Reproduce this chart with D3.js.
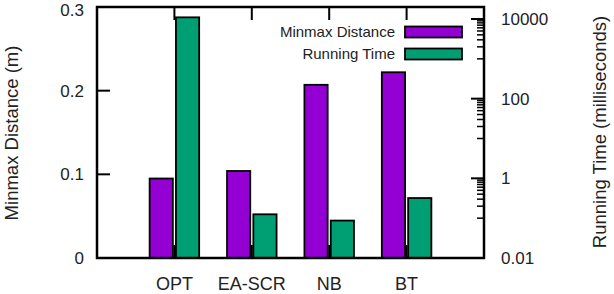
<!DOCTYPE html>
<html>
<head>
<meta charset="utf-8">
<script src="https://cdn.jsdelivr.net/npm/d3@7"></script>
<style>
html,body{margin:0;padding:0;background:#fff;}
svg{display:block;font-family:"Liberation Sans",Arial,sans-serif;}
</style>
</head>
<body>
<svg id="chart" width="614" height="294"></svg>
<script>
const categories = ["OPT", "EA-SCR", "NB", "BT"];
const minmaxDistance = [0.095, 0.104, 0.207, 0.222];
const runningTime = [11000, 0.125, 0.087, 0.32];
const leftTicks = [0, 0.1, 0.2, 0.3];
const leftTickLabels = ["0", "0.1", "0.2", "0.3"];
const rightTicks = [0.01, 1, 100, 10000];
const rightTickLabels = ["0.01", "1", "100", "10000"];
const seriesNames = ["Minmax Distance", "Running Time"];
const colors = ["#9400D3", "#009E73"];

const svg = d3.select("#chart");
const L = 97, R = 484, T = 7, B = 258;

const x = d3.scaleLinear().domain([0, 5]).range([L, R]);
const yL = d3.scaleLinear().domain([0, 0.3]).range([B, T]);
const yR = d3.scaleLog().domain([0.01, 20000]).range([B, T]);

const g = svg.append("g");

// x ticks (bottom and top, inward)
categories.forEach((c, i) => {
  const cx = x(i + 1);
  g.append("line").attr("x1", cx).attr("x2", cx).attr("y1", B).attr("y2", B - 13)
    .attr("stroke", "#000").attr("stroke-width", 2);
  g.append("line").attr("x1", cx).attr("x2", cx).attr("y1", T).attr("y2", T + 13)
    .attr("stroke", "#000").attr("stroke-width", 2);
});

// left ticks
leftTicks.forEach((v, i) => {
  g.append("line").attr("x1", L).attr("x2", L + 13).attr("y1", yL(v)).attr("y2", yL(v))
    .attr("stroke", "#000").attr("stroke-width", 2);
  const base = Math.max(yL(v) + 6.1, 15.5);
  g.append("text").attr("x", L - 13).attr("y", base)
    .attr("text-anchor", "end").attr("font-size", 17).attr("fill", "#222").text(leftTickLabels[i]);
});

// right ticks (log)
rightTicks.forEach((v, i) => {
  g.append("line").attr("x1", R).attr("x2", R - 13).attr("y1", yR(v)).attr("y2", yR(v))
    .attr("stroke", "#000").attr("stroke-width", 2);
  g.append("text").attr("x", R + 17).attr("y", yR(v)).attr("dy", "0.36em")
    .attr("text-anchor", "start").attr("font-size", 17).attr("fill", "#222").text(rightTickLabels[i]);
});
[-1, 1, 3].forEach(m => {
  for (let k = 1; k <= 9; k++) {
    const v = k * Math.pow(10, m);
    g.append("line").attr("x1", R).attr("x2", R - 7).attr("y1", yR(v)).attr("y2", yR(v))
      .attr("stroke", "#000").attr("stroke-width", 1.5);
  }
});

// bars
const bw = 0.3, gap = 0.02;
categories.forEach((c, i) => {
  const cx = i + 1;
  g.append("rect")
    .attr("x", x(cx - gap - bw)).attr("width", x(bw) - x(0))
    .attr("y", yL(minmaxDistance[i])).attr("height", yL(0) - yL(minmaxDistance[i]))
    .attr("fill", colors[0]).attr("stroke", "#000").attr("stroke-width", 1.8);
  g.append("rect")
    .attr("x", x(cx + gap)).attr("width", x(bw) - x(0))
    .attr("y", yR(runningTime[i])).attr("height", yR(0.01) - yR(runningTime[i]))
    .attr("fill", colors[1]).attr("stroke", "#000").attr("stroke-width", 1.8);
  g.append("text").attr("x", x(cx)).attr("y", 290)
    .attr("text-anchor", "middle").attr("font-size", 18).attr("fill", "#222").text(c);
});

// frame
g.append("rect").attr("x", L).attr("y", T).attr("width", R - L).attr("height", B - T)
  .attr("fill", "none").attr("stroke", "#000").attr("stroke-width", 2.5);

// legend
seriesNames.forEach((s, i) => {
  const cy = 32 + i * 22;
  g.append("text").attr("x", 395).attr("y", cy).attr("dy", "0.36em")
    .attr("text-anchor", "end").attr("font-size", 15).attr("fill", "#222").text(s);
  g.append("rect").attr("x", 405).attr("y", cy - 5.5).attr("width", 57).attr("height", 11)
    .attr("fill", colors[i]).attr("stroke", "#000").attr("stroke-width", 1.8);
});

// axis titles
svg.append("text").attr("transform", "translate(17.5,133) rotate(-90)")
  .attr("text-anchor", "middle").attr("font-size", 18.5).attr("fill", "#222").text("Minmax Distance (m)");
svg.append("text").attr("transform", "translate(606,132) rotate(-90)")
  .attr("text-anchor", "middle").attr("font-size", 18.5).attr("fill", "#222").text("Running Time (milliseconds)");
</script>
</body>
</html>
